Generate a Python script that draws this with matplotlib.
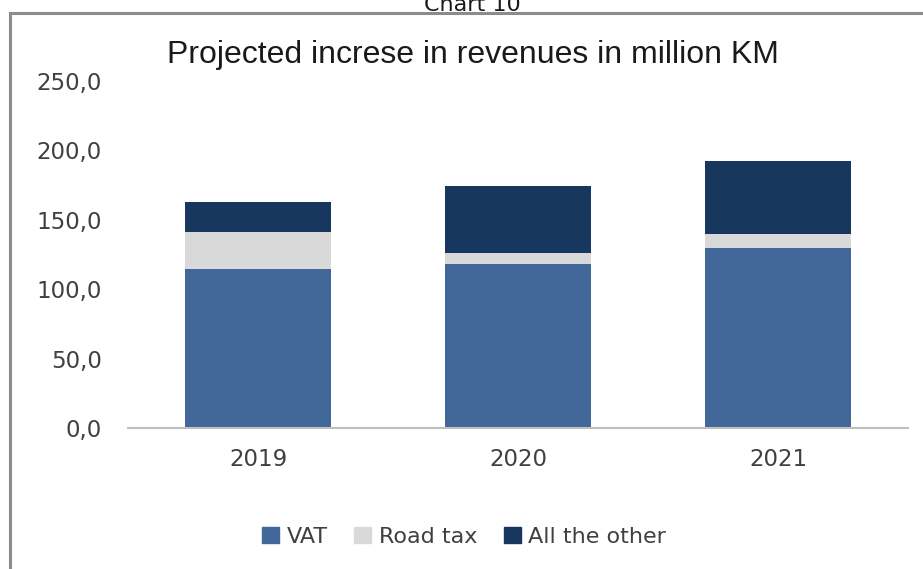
import matplotlib
matplotlib.use("Agg")
import matplotlib.pyplot as plt
from matplotlib.lines import Line2D
from matplotlib.patches import Patch

# Projected revenue increase, million KM
years = ["2019", "2020", "2021"]
vat = [114.4, 118.0, 129.5]
road_tax = [26.6, 8.4, 10.5]
all_other = [21.6, 47.9, 52.5]
series_names = ["VAT", "Road tax", "All the other"]
y_ticks = [0, 50, 100, 150, 200, 250]

colors = ["#416898", "#d9d9d9", "#17375e"]
text_color = "#404040"

fig = plt.figure(figsize=(9.23, 5.69), dpi=100)
ax = fig.add_axes([0.1387, 0.2473, 0.845, 0.6107])

x = range(len(years))
bottom_road = vat
bottom_other = [v + r for v, r in zip(vat, road_tax)]
ax.bar(x, vat, width=0.565, color=colors[0])
ax.bar(x, road_tax, width=0.565, bottom=bottom_road, color=colors[1])
ax.bar(x, all_other, width=0.565, bottom=bottom_other, color=colors[2])

ax.set_xlim(-0.5, 2.5)
ax.set_ylim(0, 250)
ax.set_xticks(list(x))
ax.set_xticklabels(years)
ax.set_yticks(y_ticks)
ax.set_yticklabels([f"{t:.1f}".replace(".", ",") for t in y_ticks])
ax.tick_params(axis="both", length=0, labelsize=16.5, colors=text_color)
ax.tick_params(axis="y", pad=19)
ax.tick_params(axis="x", pad=14)

for side in ["left", "right", "top"]:
    ax.spines[side].set_visible(False)
ax.spines["bottom"].set_color("#bfbfbf")
ax.spines["bottom"].set_linewidth(1.5)

# chart title
fig.text(0.512, 0.903, "Projected increse in revenues in million KM",
         ha="center", va="center", fontsize=23, family="Liberation Sans",
         color="#1a1a1a")

# caption above the frame
fig.text(0.512, 1 - 11 / 569, "Chart 10", ha="center", va="baseline",
         fontsize=16, color="#1a1a1a")

# frame around the chart
fig.add_artist(Line2D([10 / 923, 10 / 923], [0, 1 - 13 / 569],
                      transform=fig.transFigure, color="#8c8c8c", lw=2.2))
fig.add_artist(Line2D([10 / 923, 1], [1 - 13 / 569, 1 - 13 / 569],
                      transform=fig.transFigure, color="#8c8c8c", lw=2.2))

handles = [Patch(color=c) for c in colors]
leg = fig.legend(handles, series_names, loc="center", bbox_to_anchor=(0.503, 1 - 537 / 569),
                 ncol=3, frameon=False, fontsize=16, handlelength=0.75, handleheight=0.75,
                 handletextpad=0.35, columnspacing=1.2)
for t in leg.get_texts():
    t.set_color(text_color)

fig.savefig("out.png", dpi=100)
